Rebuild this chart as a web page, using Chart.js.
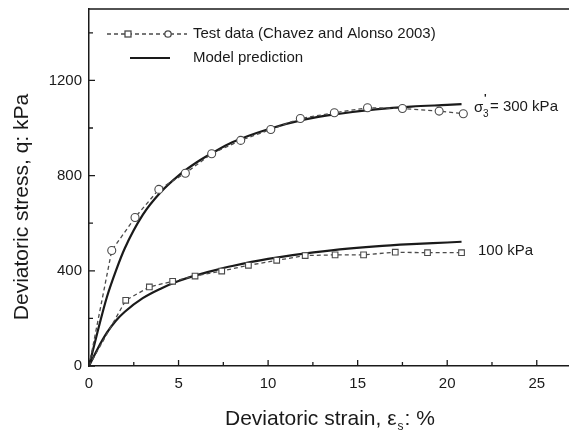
<!DOCTYPE html>
<html>
<head>
<meta charset="utf-8">
<script src="https://cdn.jsdelivr.net/npm/chart.js@4/dist/chart.umd.min.js"></script>
<style>
  html, body { margin: 0; padding: 0; background: #fff; }
  #wrap { width: 569px; height: 432px; }
</style>
</head>
<body>
<div id="wrap"><canvas id="chart" width="569" height="432"></canvas></div>
<script>
// test data (strain %, q kPa)
const test300X = [0, 1.27, 2.57, 3.9, 5.38, 6.85, 8.47, 10.15, 11.8, 13.7, 15.55, 17.5, 19.55, 20.9];
const test300Q = [0, 485, 624, 742, 810, 892, 948, 994, 1040, 1064, 1085, 1082, 1071, 1060];
const test100X = [0, 2.05, 3.37, 4.67, 5.92, 7.41, 8.9, 10.48, 12.07, 13.74, 15.33, 17.1, 18.9, 20.8];
const test100Q = [0, 276, 332, 356, 378, 399, 423, 444, 464, 467, 467, 478, 476, 476];

// model prediction curves
const modelX = [0, 0.5, 1, 1.5, 2, 3, 4, 5, 6, 7, 8, 10, 12, 14, 16, 18, 20, 20.8];
const model300Q = [0, 150, 290, 400, 495, 635, 730, 800, 855, 900, 940, 995, 1035, 1060, 1078, 1090, 1097, 1100];
const model100Q = [0, 75, 140, 190, 228, 285, 325, 357, 382, 402, 420, 450, 472, 490, 503, 512, 519, 522];

const xTicks = [0, 5, 10, 15, 20, 25];
const yTicks = [0, 400, 800, 1200];

const FONT = '"Liberation Sans", Arial, sans-serif';
const INK = '#1a1a1a';
const MARK = '#4a4a4a';

const pts = (xs, ys) => xs.map((x, i) => ({ x: x, y: ys[i] }));
const firstHidden = (n, r) => Array.from({ length: n }, (_, i) => i === 0 ? 0 : r);
const noPad = s => { s.paddingTop = 0; s.paddingBottom = 0; s.paddingLeft = 0; s.paddingRight = 0; };

// inward ticks, top frame, legend and labels
const decor = {
  id: 'decor',
  afterDraw(chart) {
    const { ctx, chartArea: a, scales: { x, y } } = chart;
    ctx.save();
    ctx.strokeStyle = INK;
    ctx.lineWidth = 1.3;
    ctx.beginPath();
    ctx.moveTo(a.left, a.top); ctx.lineTo(chart.width, a.top);
    for (let v = 0; v <= 27.5; v += 2.5) {
      const px = x.getPixelForValue(v);
      if (px > chart.width) break;
      const len = v % 5 === 0 ? 6 : 4;
      ctx.moveTo(px, a.bottom); ctx.lineTo(px, a.bottom - len);
    }
    for (let v = 0; v <= 1400; v += 200) {
      const py = y.getPixelForValue(v);
      const len = v % 400 === 0 ? 6 : 4;
      ctx.moveTo(a.left, py); ctx.lineTo(a.left + len, py);
    }
    ctx.stroke();

    // legend
    ctx.fillStyle = INK;
    ctx.font = '15px ' + FONT;
    ctx.textBaseline = 'middle';
    ctx.strokeStyle = MARK;
    ctx.lineWidth = 1.3;
    ctx.setLineDash([4, 3]);
    ctx.beginPath(); ctx.moveTo(107, 34); ctx.lineTo(187, 34); ctx.stroke();
    ctx.setLineDash([]);
    ctx.fillStyle = '#fff';
    ctx.fillRect(125, 31, 6, 6); ctx.strokeRect(125, 31, 6, 6);
    ctx.beginPath(); ctx.arc(168, 34, 3.2, 0, Math.PI * 2); ctx.fill(); ctx.stroke();
    ctx.fillStyle = INK;
    ctx.fillText('Test data (Chavez and Alonso 2003)', 193, 34);
    ctx.strokeStyle = INK;
    ctx.lineWidth = 2.2;
    ctx.beginPath(); ctx.moveTo(130, 58); ctx.lineTo(170, 58); ctx.stroke();
    ctx.fillText('Model prediction', 193, 58);

    // curve labels
    ctx.font = '15px ' + FONT;
    ctx.fillText('\u03c3', 474, 108);
    ctx.font = '10px ' + FONT;
    ctx.fillText('3', 483, 114);
    ctx.font = 'bold 11px ' + FONT;
    ctx.fillText("'", 484, 99);
    ctx.font = '15px ' + FONT;
    ctx.fillText('= 300 kPa', 490, 107);
    ctx.fillText('100 kPa', 478, 251);

    // axis titles
    ctx.font = '21px ' + FONT;
    ctx.textAlign = 'left';
    const t1 = 'Deviatoric strain, \u03b5';
    const w1 = ctx.measureText(t1).width;
    const tx = 225;
    ctx.fillText(t1, tx, 419);
    ctx.font = '12px ' + FONT;
    ctx.fillText('s', tx + w1 + 1, 427);
    ctx.font = '21px ' + FONT;
    ctx.fillText(': %', tx + w1 + 8, 419);

    ctx.translate(22, 207);
    ctx.rotate(-Math.PI / 2);
    ctx.textAlign = 'center';
    ctx.fillText('Deviatoric stress, q: kPa', 0, 0);
    ctx.restore();
  }
};

new Chart(document.getElementById('chart'), {
  type: 'line',
  data: {
    datasets: [
      {
        data: pts(test300X, test300Q),
        borderColor: MARK, borderWidth: 1.3, borderDash: [4, 3],
        pointStyle: 'circle', pointRadius: firstHidden(test300X.length, 4),
        pointBackgroundColor: '#fff', pointBorderColor: MARK, pointBorderWidth: 1.1
      },
      {
        data: pts(test100X, test100Q),
        borderColor: MARK, borderWidth: 1.3, borderDash: [4, 3],
        pointStyle: 'rect', pointRadius: firstHidden(test100X.length, 4),
        pointBackgroundColor: '#fff', pointBorderColor: MARK, pointBorderWidth: 1.1
      },
      {
        data: pts(modelX, model300Q),
        borderColor: INK, borderWidth: 2.2, pointRadius: 0,
        cubicInterpolationMode: 'monotone'
      },
      {
        data: pts(modelX, model100Q),
        borderColor: INK, borderWidth: 2.2, pointRadius: 0,
        cubicInterpolationMode: 'monotone'
      }
    ]
  },
  options: {
    responsive: false,
    animation: false,
    layout: { autoPadding: false, padding: { top: 9, right: 0, left: 0, bottom: 0 } },
    plugins: { legend: { display: false }, tooltip: { enabled: false } },
    scales: {
      x: {
        type: 'linear', min: 0, max: 26.8,
        grid: { display: false, drawTicks: false },
        border: { display: true, color: INK, width: 1.5 },
        afterBuildTicks: s => { s.ticks = xTicks.map(v => ({ value: v })); },
        afterFit: s => { s.height = 66; noPad(s); },
        ticks: { color: INK, padding: 9, font: { family: FONT, size: 15 }, maxRotation: 0 }
      },
      y: {
        type: 'linear', min: 0, max: 1500,
        grid: { display: false, drawTicks: false },
        border: { display: true, color: INK, width: 1.5 },
        afterBuildTicks: s => { s.ticks = yTicks.map(v => ({ value: v })); },
        afterFit: s => { s.width = 89; noPad(s); },
        ticks: { color: INK, padding: 7, font: { family: FONT, size: 15 }, callback: v => String(v) }
      }
    }
  },
  plugins: [decor]
});
</script>
</body>
</html>
